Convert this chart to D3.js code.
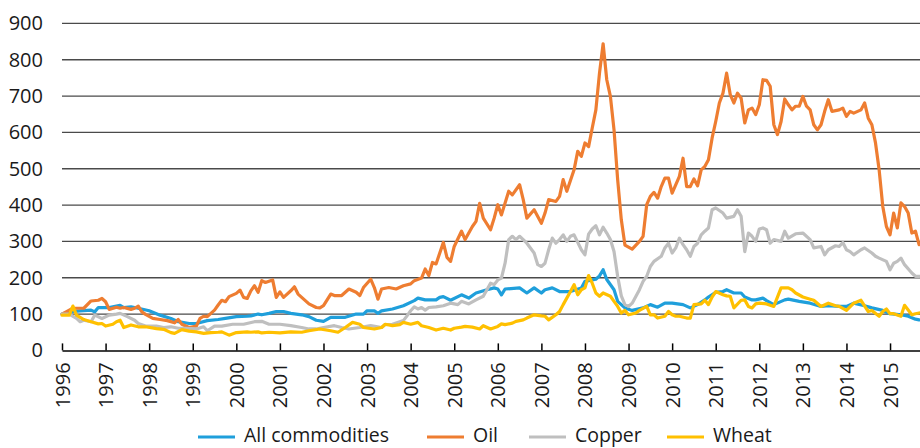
<!DOCTYPE html>
<html>
<head>
<meta charset="utf-8">
<script src="https://cdn.jsdelivr.net/npm/d3@7"></script>
<style>
  html, body { margin: 0; padding: 0; background: #fff; }
  svg { display: block; }
  text { font-family: "Open Sans", "Noto Sans", sans-serif; fill: #1a1a1a; }
</style>
</head>
<body>
<svg id="chart" width="920" height="448"></svg>
<script>
// ---- Data: [months since Jan 1996, index value (Jan 1996 = 100)] ----
const seriesNames = ["All commodities", "Oil", "Copper", "Wheat"];
const seriesColors = ["#1f9fdb", "#ee7d31", "#bfbfbf", "#ffc000"];
const yTickValues = [0, 100, 200, 300, 400, 500, 600, 700, 800, 900];
const yearLabels = ["1996","1997","1998","1999","2000","2001","2002","2003","2004","2005",
                    "2006","2007","2008","2009","2010","2011","2012","2013","2014","2015"];

const allCommodities = [[0,100],[2,106],[5,109],[8,111],[9,106],[10,118],[13,118],[16,124],[17,118],[19,120],[21,116],[24,109],[27,97],[30,88],[32,79],[35,74],[37,74],[40,82],[43,85],[45,88],[48,93],[51,94],[52,95],[54,100],[55,98],[57,102],[59,107],[61,107],[63,102],[66,98],[68,93],[70,83],[72,80],[74,91],[77,91],[78,91],[81,100],[83,100],[84,109],[86,109],[87,102],[88,109],[91,114],[94,123],[97,137],[98,144],[100,139],[103,139],[104,146],[105,148],[107,138],[110,153],[112,144],[114,158],[117,167],[119,172],[120,169],[121,153],[122,169],[126,172],[128,158],[130,172],[132,158],[133,167],[135,172],[137,162],[140,162],[143,172],[144,190],[147,196],[148,205],[149,222],[150,195],[152,167],[153,135],[155,117],[157,110],[160,117],[162,126],[164,119],[166,130],[168,130],[171,126],[173,117],[175,126],[177,139],[178,147],[180,160],[182,162],[183,167],[185,158],[187,158],[188,147],[190,139],[191,139],[193,144],[194,137],[196,126],[199,139],[200,141],[203,135],[206,130],[209,121],[211,123],[214,121],[216,121],[218,130],[221,123],[223,117],[226,110],[228,101],[231,98],[233,94],[235,86],[236,84]];

const oil = [[0,100],[3,116],[6,116],[8,136],[10,138],[11,143],[12,134],[13,113],[15,119],[16,116],[17,118],[19,113],[20,116],[21,122],[22,106],[23,99],[25,88],[27,85],[29,82],[31,76],[32,85],[33,72],[35,63],[36,65],[37,67],[38,88],[39,94],[40,93],[42,111],[43,125],[44,138],[45,134],[46,148],[48,157],[49,166],[50,146],[51,143],[52,164],[53,178],[54,160],[55,192],[56,187],[58,194],[59,146],[60,161],[61,146],[63,164],[64,175],[65,155],[66,146],[68,128],[70,118],[71,117],[72,123],[74,155],[75,151],[77,151],[78,160],[79,169],[81,160],[82,151],[83,173],[85,196],[86,173],[87,141],[88,169],[90,173],[92,169],[94,178],[96,183],[97,192],[99,199],[100,224],[101,206],[102,242],[103,238],[105,297],[106,256],[107,245],[108,286],[110,328],[111,305],[113,341],[114,355],[115,405],[116,364],[118,332],[119,364],[120,401],[121,373],[123,438],[124,428],[126,456],[127,415],[128,364],[130,387],[132,350],[133,378],[134,415],[136,410],[137,424],[138,470],[139,438],[141,497],[142,548],[143,534],[144,571],[145,561],[146,612],[147,662],[148,763],[149,844],[150,745],[151,699],[152,607],[153,470],[154,360],[155,290],[157,279],[159,300],[160,314],[161,401],[162,424],[163,435],[164,419],[165,451],[166,474],[167,474],[168,433],[170,479],[171,529],[172,451],[173,451],[174,472],[175,453],[176,497],[177,506],[178,525],[179,584],[180,630],[181,681],[182,708],[183,763],[184,704],[185,681],[186,708],[187,694],[188,626],[189,662],[190,667],[191,649],[192,676],[193,745],[194,743],[195,727],[196,621],[197,594],[198,630],[199,692],[200,676],[201,662],[202,672],[203,672],[204,699],[205,672],[206,662],[207,621],[208,607],[209,621],[210,658],[211,690],[212,658],[214,662],[215,667],[216,644],[217,658],[218,653],[220,662],[221,681],[222,639],[223,621],[224,571],[225,497],[226,396],[227,341],[228,318],[229,378],[230,337],[231,406],[232,396],[233,378],[234,323],[235,328],[236,291]];

const copper = [[0,100],[2,100],[4,88],[5,79],[6,83],[8,79],[9,97],[11,88],[13,97],[15,100],[16,102],[18,93],[20,83],[21,74],[23,67],[26,67],[28,63],[30,65],[32,61],[34,61],[37,59],[39,65],[40,54],[42,67],[44,67],[47,72],[50,72],[53,79],[55,80],[57,72],[60,72],[63,68],[66,63],[68,59],[70,59],[72,63],[75,68],[77,63],[79,59],[82,63],[85,68],[88,63],[89,71],[91,72],[94,82],[95,95],[96,109],[97,120],[98,114],[99,118],[100,111],[101,118],[103,120],[105,123],[107,130],[109,126],[110,135],[112,128],[114,139],[116,149],[117,167],[118,185],[119,181],[120,194],[121,199],[122,240],[123,305],[124,314],[125,305],[126,314],[127,305],[128,295],[130,268],[131,236],[132,231],[133,240],[134,277],[135,309],[136,295],[137,305],[138,318],[139,300],[140,314],[141,318],[143,277],[144,263],[145,320],[146,334],[147,343],[148,318],[149,339],[150,323],[151,305],[152,272],[153,204],[154,150],[155,126],[156,121],[157,130],[159,167],[160,190],[161,204],[162,231],[163,245],[165,259],[166,282],[167,295],[168,268],[169,282],[170,309],[171,291],[172,277],[173,259],[174,286],[175,295],[176,318],[177,328],[178,337],[179,387],[180,392],[182,378],[183,364],[185,369],[186,387],[187,369],[188,272],[189,323],[190,314],[191,300],[192,334],[193,337],[194,332],[195,295],[196,305],[198,300],[199,328],[200,309],[202,321],[204,323],[206,305],[207,282],[209,286],[210,263],[211,277],[213,288],[214,286],[215,297],[216,277],[217,272],[218,263],[220,277],[221,282],[223,268],[224,259],[225,254],[227,245],[228,222],[229,240],[230,245],[231,254],[232,236],[234,213],[235,204],[236,204]];

const wheat = [[0,97],[2,97],[3,122],[4,97],[6,85],[8,79],[10,73],[11,74],[12,67],[14,72],[15,79],[16,83],[17,63],[19,70],[21,65],[23,65],[26,60],[28,58],[30,49],[31,47],[33,57],[35,53],[37,51],[39,47],[41,49],[43,50],[44,51],[46,42],[48,49],[51,51],[52,50],[54,51],[55,48],[57,50],[60,48],[63,51],[66,50],[68,54],[71,59],[74,54],[76,50],[78,63],[80,77],[82,72],[83,63],[86,59],[88,63],[89,72],[91,68],[93,71],[94,77],[96,72],[98,77],[99,68],[101,63],[103,56],[105,61],[107,56],[108,61],[110,64],[111,66],[113,64],[115,59],[116,68],[118,59],[120,66],[121,73],[122,71],[124,75],[125,80],[127,84],[128,89],[130,98],[132,95],[133,94],[134,84],[136,98],[137,107],[138,126],[140,162],[141,181],[142,153],[143,167],[144,172],[145,206],[146,185],[147,158],[148,149],[149,158],[151,149],[152,135],[153,121],[154,103],[155,110],[156,98],[158,103],[159,110],[161,121],[162,98],[163,98],[164,89],[166,94],[167,107],[168,98],[169,94],[170,94],[172,89],[173,89],[174,126],[176,128],[177,138],[178,126],[179,147],[180,162],[182,153],[183,150],[184,149],[185,117],[187,138],[188,139],[189,121],[190,117],[191,128],[192,130],[194,128],[196,121],[198,172],[200,172],[201,167],[202,158],[204,147],[206,141],[207,138],[209,121],[211,130],[213,123],[214,121],[216,110],[218,130],[220,138],[222,107],[223,110],[225,94],[226,107],[227,114],[228,101],[229,101],[231,94],[232,124],[234,98],[235,101],[236,103]];

const seriesData = [allCommodities, oil, copper, wheat];

// ---- Layout ----
const W = 920, H = 448;
const plotLeft = 62, plotRight = 920, plotTop = 23.4, plotBottom = 350.4;

const svg = d3.select("#chart");

const x = d3.scaleLinear().domain([0, 236.25]).range([plotLeft, plotRight]);
const y = d3.scaleLinear().domain([0, 900]).range([plotBottom, plotTop]);

// Gridlines
svg.append("g")
  .selectAll("line")
  .data(yTickValues.filter(v => v > 0))
  .join("line")
  .attr("x1", plotLeft).attr("x2", plotRight)
  .attr("y1", d => y(d)).attr("y2", d => y(d))
  .attr("stroke", "#4a4a4a").attr("stroke-width", 1.3);

// Y axis (labels only)
const yAxis = svg.append("g")
  .attr("transform", `translate(${plotLeft},0)`)
  .call(d3.axisLeft(y).tickValues(yTickValues).tickSize(0).tickPadding(19));
yAxis.select(".domain").remove();
yAxis.selectAll("text")
  .style("font-size", "20px")
  .style("font-family", "'Open Sans','Noto Sans',sans-serif")
  .attr("fill", "#1a1a1a");

// Lines
svg.append("clipPath").attr("id", "plotclip")
  .append("rect").attr("x", plotLeft - 5).attr("y", 0)
  .attr("width", plotRight - plotLeft + 5).attr("height", plotBottom);

const line = d3.line()
  .x(d => x(d[0]))
  .y(d => y(d[1]))
  .curve(d3.curveLinear);

svg.append("g").attr("clip-path", "url(#plotclip)")
  .selectAll("path")
  .data(seriesData)
  .join("path")
  .attr("d", d => line(d))
  .attr("fill", "none")
  .attr("stroke", (d, i) => seriesColors[i])
  .attr("stroke-width", 3.2)
  .attr("stroke-linejoin", "round")
  .attr("stroke-linecap", "round");

// X axis
const tickMonths = yearLabels.map((_, i) => i * 12);
const xAxis = svg.append("g")
  .attr("transform", `translate(0,${plotBottom})`)
  .call(d3.axisBottom(x)
    .tickValues(tickMonths)
    .tickFormat((d, i) => yearLabels[i])
    .tickSizeInner(-7)
    .tickSizeOuter(0));
xAxis.select(".domain").attr("stroke", "#000").attr("stroke-width", 1.5);
xAxis.selectAll(".tick line").attr("stroke", "#000").attr("stroke-width", 1.5);
xAxis.selectAll(".tick text")
  .style("font-size", "20px")
  .style("font-family", "'Open Sans','Noto Sans',sans-serif")
  .attr("fill", "#1a1a1a")
  .attr("transform", "rotate(-90)")
  .attr("text-anchor", "end")
  .attr("x", -12)
  .attr("y", 0)
  .attr("dy", "0.35em");

// Legend
const legendX = [198, 427, 529, 667];
const legend = svg.append("g");
const items = legend.selectAll("g")
  .data(seriesNames)
  .join("g")
  .attr("transform", (d, i) => `translate(${legendX[i]},0)`);
items.append("line")
  .attr("x1", 0).attr("x2", 37)
  .attr("y1", 437).attr("y2", 437)
  .attr("stroke", (d, i) => seriesColors[i])
  .attr("stroke-width", 3.2);
items.append("text")
  .attr("x", 46).attr("y", 442)
  .style("font-size", "19.5px")
  .text(d => d);
</script>
</body>
</html>
